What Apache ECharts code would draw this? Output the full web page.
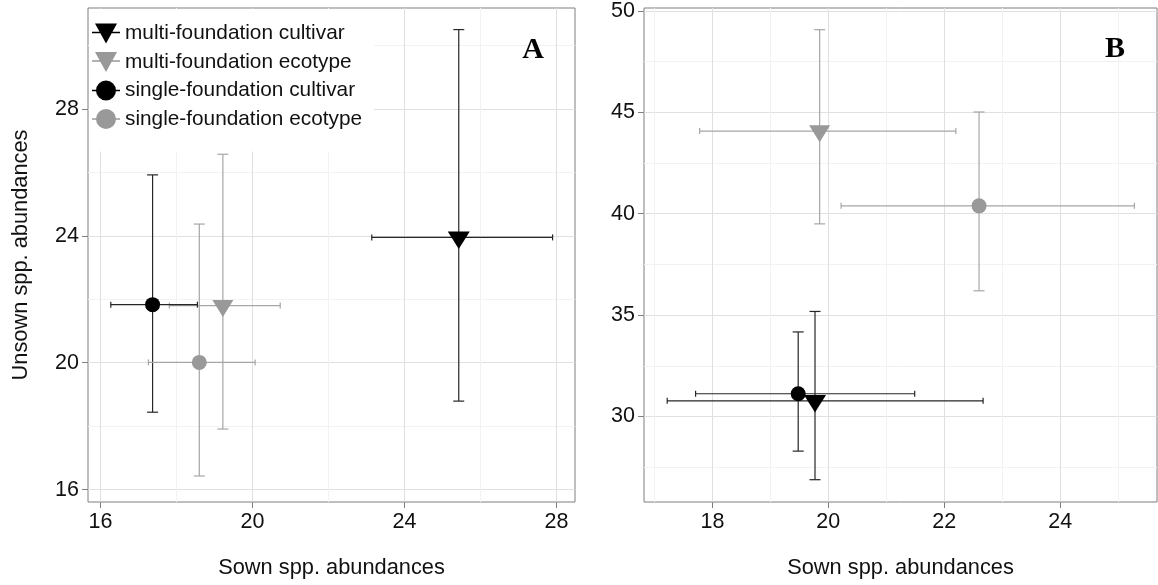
<!DOCTYPE html>
<html>
<head>
<meta charset="utf-8">
<script src="https://cdn.jsdelivr.net/npm/echarts@6.0.0/dist/echarts.min.js"></script>
<style>
  html, body { margin: 0; padding: 0; background: #ffffff; }
  #chart { width: 1158px; height: 585px; }
</style>
</head>
<body>
<div id="chart"></div>
<script>
// Treatment groups (legend order)
const groups = [
  'multi-foundation cultivar',
  'multi-foundation ecotype',
  'single-foundation cultivar',
  'single-foundation ecotype'
];

// Panel A: means and interval limits
const sownA      = [25.43, 19.22, 17.37, 18.60];
const sownLowA   = [23.14, 17.81, 16.27, 17.26];
const sownHighA  = [27.90, 20.73, 18.55, 20.07];
const unsownA     = [23.95, 21.80, 21.83, 20.01];
const unsownLowA  = [18.79, 17.91, 18.44, 16.43];
const unsownHighA = [30.50, 26.57, 25.92, 24.37];

// Panel B: means and interval limits
const sownB      = [19.77, 19.85, 19.48, 22.60];
const sownLowB   = [17.22, 17.78, 17.71, 20.22];
const sownHighB  = [22.67, 22.20, 21.49, 25.28];
const unsownB     = [30.77, 44.08, 31.12, 40.39];
const unsownLowB  = [26.88, 39.50, 28.29, 36.20];
const unsownHighB = [35.18, 49.08, 34.17, 45.02];

// Tick labels and grid positions
const xMajorA = [16, 20, 24, 28];
const xMinorA = [18, 22, 26];
const yMajorA = [16, 20, 24, 28];
const yMinorA = [18, 22, 26, 30];
const xMajorB = [18, 20, 22, 24];
const xMinorB = [17, 19, 21, 23, 25];
const yMajorB = [30, 35, 40, 45, 50];
const yMinorB = [27.5, 32.5, 37.5, 42.5, 47.5];

// Axis extents
const xRangeA = [15.67, 28.49];
const yRangeA = [15.61, 31.18];
const xRangeB = [16.82, 25.67];
const yRangeB = [25.78, 50.15];

const FONT = "'Liberation Sans', Arial, sans-serif";
const pointColors = ['#000000', '#999999', '#000000', '#999999'];
const barColors = ['#262626', '#a6a6a6', '#262626', '#a6a6a6'];
const TRI = 'path://M0,0 L22,0 L11,18 Z';
const pointSymbols = [TRI, TRI, 'circle', 'circle'];
const pointSizes = [[22, 17.5], [21, 17], 15, 15];
const pointOffsets = [[0, 2.9], [0, 2.8], [0, 0], [0, 0]];
const legendIcons = [
  'path://M3,0 L25,0 L14,20 Z M0,8.3 L28,8.3 L28,9.8 L0,9.8 Z',
  'path://M3,0 L25,0 L14,20 Z M0,8.3 L28,8.3 L28,9.8 L0,9.8 Z',
  'path://M24,10 A10,10 0 1,1 4,10 A10,10 0 1,1 24,10 Z M0,9.2 L28,9.2 L28,10.8 L0,10.8 Z',
  'path://M24,10 A10,10 0 1,1 4,10 A10,10 0 1,1 24,10 Z M0,9.2 L28,9.2 L28,10.8 L0,10.8 Z'
];

function majorAxis(range, ticks, gridIndex, extra) {
  return Object.assign({
    type: 'value',
    gridIndex: gridIndex,
    min: range[0],
    max: range[1],
    axisLine: { show: false },
    axisTick: { show: true, length: 6, customValues: ticks, lineStyle: { color: '#7f7f7f', width: 1 } },
    axisLabel: { customValues: ticks, color: '#111111', fontSize: 21.5, fontFamily: FONT, margin: 9 },
    splitLine: { show: true, lineStyle: { color: '#e0e0e0', width: 1 } },
    nameTextStyle: { color: '#111111', fontSize: 21.8, fontFamily: FONT }
  }, extra || {});
}

function minorAxis(range, ticks, gridIndex) {
  return {
    type: 'value',
    gridIndex: gridIndex,
    min: range[0],
    max: range[1],
    axisLine: { show: false },
    axisTick: { show: false, customValues: ticks },
    axisLabel: { show: false, customValues: ticks },
    splitLine: { show: true, lineStyle: { color: '#f2f2f2', width: 1 } }
  };
}

// Error bars drawn in both directions around each mean
function errorBarRenderer(color) {
  return function (params, api) {
    const x = api.value(0), y = api.value(1);
    const c = api.coord([x, y]);
    const l = api.coord([api.value(2), y]);
    const r = api.coord([api.value(3), y]);
    const b = api.coord([x, api.value(4)]);
    const t = api.coord([x, api.value(5)]);
    const st = { stroke: color, lineWidth: 1.2 };
    const seg = (x1, y1, x2, y2) => ({ type: 'line', shape: { x1: x1, y1: y1, x2: x2, y2: y2 }, style: st });
    return {
      type: 'group',
      children: [
        seg(c[0], t[1], c[0], b[1]),
        seg(c[0] - 5.5, t[1], c[0] + 5.5, t[1]),
        seg(c[0] - 5.5, b[1], c[0] + 5.5, b[1]),
        seg(l[0], c[1], r[0], c[1]),
        seg(l[0], c[1] - 3, l[0], c[1] + 3),
        seg(r[0], c[1] - 3, r[0], c[1] + 3)
      ]
    };
  };
}

const panels = [
  { axis: 0, sown: sownA, sLo: sownLowA, sHi: sownHighA, unsown: unsownA, uLo: unsownLowA, uHi: unsownHighA },
  { axis: 2, sown: sownB, sLo: sownLowB, sHi: sownHighB, unsown: unsownB, uLo: unsownLowB, uHi: unsownHighB }
];

const pointSeries = [];
const barSeries = [];
panels.forEach(function (p) {
  groups.forEach(function (g, i) {
    pointSeries.push({
      type: 'scatter',
      name: g,
      xAxisIndex: p.axis,
      yAxisIndex: p.axis,
      symbol: pointSymbols[i],
      symbolSize: pointSizes[i],
      symbolOffset: pointOffsets[i],
      itemStyle: { color: pointColors[i], opacity: 1 },
      z: 4,
      silent: true,
      data: [[p.sown[i], p.unsown[i]]]
    });
    barSeries.push({
      type: 'custom',
      name: g,
      xAxisIndex: p.axis,
      yAxisIndex: p.axis,
      itemStyle: { color: pointColors[i] },
      z: 3,
      silent: true,
      renderItem: errorBarRenderer(barColors[i]),
      encode: { x: [0, 2, 3], y: [1, 4, 5] },
      data: [[p.sown[i], p.unsown[i], p.sLo[i], p.sHi[i], p.uLo[i], p.uHi[i]]]
    });
  });
});

const option = {
  animation: false,
  backgroundColor: '#ffffff',
  grid: [
    { left: 88, top: 8, width: 487, height: 494, show: true, borderColor: '#7f7f7f', borderWidth: 1, backgroundColor: 'transparent' },
    { left: 644, top: 8, width: 513, height: 494, show: true, borderColor: '#7f7f7f', borderWidth: 1, backgroundColor: 'transparent' }
  ],
  xAxis: [
    majorAxis(xRangeA, xMajorA, 0, { name: 'Sown spp. abundances', nameLocation: 'middle', nameGap: 55 }),
    minorAxis(xRangeA, xMinorA, 0),
    majorAxis(xRangeB, xMajorB, 1, { name: 'Sown spp. abundances', nameLocation: 'middle', nameGap: 55 }),
    minorAxis(xRangeB, xMinorB, 1)
  ],
  yAxis: [
    majorAxis(yRangeA, yMajorA, 0, { name: 'Unsown spp. abundances', nameLocation: 'middle', nameGap: 56 }),
    minorAxis(yRangeA, yMinorA, 0),
    majorAxis(yRangeB, yMajorB, 1),
    minorAxis(yRangeB, yMinorB, 1)
  ],
  legend: {
    show: true,
    orient: 'vertical',
    left: 89,
    top: 9,
    padding: [14, 12, 22, 3],
    backgroundColor: '#ffffff',
    itemWidth: 28,
    itemHeight: 20,
    itemGap: 7.5,
    selectedMode: false,
    itemStyle: { borderWidth: 0 },
    textStyle: { color: '#111111', fontSize: 20.8, fontFamily: FONT, lineHeight: 20 },
    data: groups.map(function (g, i) { return { name: g, icon: legendIcons[i] }; })
  },
  graphic: [
    { type: 'text', x: 533, y: 50, z: 10, style: { text: 'A', font: "bold 30px 'Liberation Serif', 'Times New Roman', serif", fill: '#000', textAlign: 'center', textVerticalAlign: 'middle' } },
    { type: 'text', x: 1115, y: 49, z: 10, style: { text: 'B', font: "bold 30px 'Liberation Serif', 'Times New Roman', serif", fill: '#000', textAlign: 'center', textVerticalAlign: 'middle' } }
  ],
  series: pointSeries.concat(barSeries)
};

const chart = echarts.init(document.getElementById('chart'), null, { renderer: 'canvas' });
chart.setOption(option);
</script>
</body>
</html>
